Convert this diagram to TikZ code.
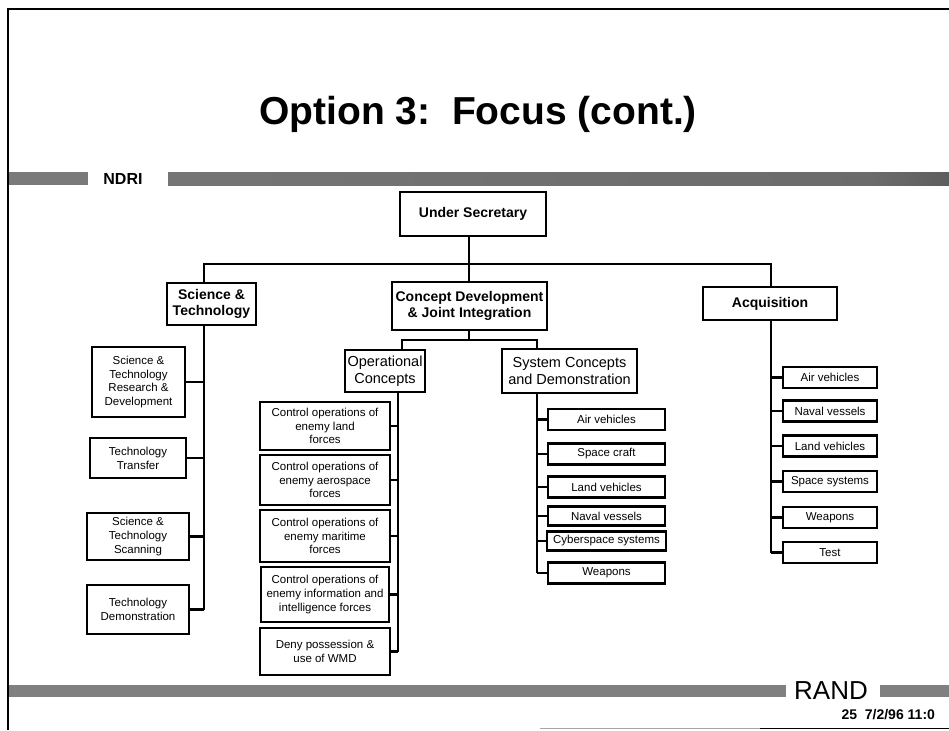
\documentclass[tikz,border=0pt]{standalone}
\usepackage{fontspec}
\setmainfont{Liberation Sans}
\pgfdeclarehorizontalshading{barshade}{100bp}{color(0bp)=(black!52); color(70bp)=(black!58); color(86bp)=(black!75); color(95bp)=(black); color(100bp)=(black)}
\begin{document}
\begin{tikzpicture}[x=1pt,y=-1pt,
  box/.style={draw,line width=2.3pt,fill=white,inner sep=0pt,align=center},
  conn/.style={line width=2.3pt},
  small/.style={font=\fontsize{11.5}{13.8}\selectfont},
  smallbox/.style={box,small,minimum height=21pt},
  bighead/.style={font=\fontsize{14}{16}\selectfont\bfseries},
  midreg/.style={font=\fontsize{14.5}{16.5}\selectfont}]
\useasboundingbox (0,0) rectangle (949,730);
\fill[white] (0,0) rectangle (949,730);
% frame
\draw[line width=2pt] (8,730) -- (8,9) -- (949,9);
\draw[line width=1pt,black!35] (540,728.5) -- (760,728.5);
\draw[line width=1pt] (760,728.5) -- (949,728.5);
% title
\node[font=\fontsize{39}{41}\selectfont\bfseries] (title) at (478,114) {Option 3:\ \ Focus (cont.)};
% top bar
\fill[black!52] (9,172) rectangle (88,185);
\shade[shading=barshade] (168,172) rectangle (949,185);
\node[font=\fontsize{16}{17}\selectfont\bfseries] (ndri) at (123,179) {NDRI};
% bottom bar
\fill[black!50] (9,685) rectangle (786,697);
\fill[black!50] (880,685) rectangle (949,697);
\node[font=\fontsize{26}{28}\selectfont] (rand) at (831,691) {RAND};
\node[font=\fontsize{14}{16}\selectfont\bfseries,anchor=west] (date) at (838,715) {25\ \ 7/2/96\ 11:0};
% coordinates
\coordinate (j0) at (469,264);
\coordinate (j1) at (469,340);
\coordinate (stx) at (204,0);
\coordinate (aqx) at (771,0);
\coordinate (ocx) at (402,0);
\coordinate (ocs) at (398,0);
\coordinate (scx) at (537,0);
% level 1
\node[box,bighead,minimum width=146pt,minimum height=44pt] (us) at (473,214) {Under Secretary};
\node[box,bighead,minimum width=89pt,minimum height=42pt] (st) at (211.5,304) {Science \&\\Technology};
\node[box,bighead,minimum width=155pt,minimum height=48pt] (cd) at (469.5,306) {Concept Development\\\& Joint Integration};
\node[box,bighead,minimum width=134pt,minimum height=33pt] (aq) at (770,303.5) {Acquisition};
% level 2
\node[box,midreg,minimum width=80pt,minimum height=42pt] (oc) at (385,371) {Operational\\Concepts};
\node[box,midreg,minimum width=135pt,minimum height=44pt] (sc) at (569.5,371) {System Concepts\\and Demonstration};
% S&T children
\node[box,small,minimum width=93pt,minimum height=70pt] (t1) at (138.5,382) {Science \&\\Technology\\Research \&\\Development};
\node[box,small,minimum width=96pt,minimum height=40pt] (t2) at (138,458) {Technology\\Transfer};
\node[box,small,minimum width=102pt,minimum height=47pt] (t3) at (138,536.5) {Science \&\\Technology\\Scanning};
\node[box,small,minimum width=102pt,minimum height=49pt] (t4) at (138,609.5) {Technology\\Demonstration};
% Operational concepts children
\node[box,small,minimum width=130pt,minimum height=48pt] (o1) at (325,426) {Control operations of\\enemy land\\forces};
\node[box,small,minimum width=130pt,minimum height=50pt] (o2) at (325,480) {Control operations of\\enemy aerospace\\forces};
\node[box,small,minimum width=130pt,minimum height=52pt] (o3) at (325,536) {Control operations of\\enemy maritime\\forces};
\node[box,small,minimum width=128pt,minimum height=55pt] (o4) at (325,594.5) {Control operations of\\enemy information and\\intelligence forces};
\node[box,small,minimum width=130pt,minimum height=47pt] (o5) at (325,651.5) {Deny possession \&\\use of WMD};
% System concepts children
\node[smallbox,minimum width=117pt] (s1) at (606.5,419.5) {Air vehicles};
\node[smallbox,minimum width=117pt] (s2) at (606.5,454) {Space craft};
\node[smallbox,minimum width=117pt] (s3) at (606.5,487) {Land vehicles};
\node[smallbox,minimum width=117pt,minimum height=19pt] (s4) at (606.5,516) {Naval vessels};
\node[smallbox,minimum width=119pt,minimum height=19pt] (s5) at (606.5,541) {Cyberspace systems};
\node[smallbox,minimum width=117pt] (s6) at (606.5,573) {Weapons};
% Acquisition children
\node[smallbox,minimum width=94pt] (a1) at (830,377.5) {Air vehicles};
\node[smallbox,minimum width=94pt] (a2) at (830,411) {Naval vessels};
\node[smallbox,minimum width=94pt] (a3) at (830,446) {Land vehicles};
\node[smallbox,minimum width=94pt] (a4) at (830,481.5) {Space systems};
\node[smallbox,minimum width=94pt] (a5) at (830,517.5) {Weapons};
\node[smallbox,minimum width=94pt] (a6) at (830,552.5) {Test};
% connectors
\draw[conn] (us.south -| j0) -- (j0);
\draw[conn] (j0) -- (cd.north -| j0);
\draw[conn] (st.north -| stx) -- (stx |- j0) -- (aqx |- j0) -- (aq.north -| aqx);
\draw[conn] (cd.south -| j1) -- (j1);
\draw[conn] (oc.north -| ocx) -- (ocx |- j1) -- (scx |- j1) -- (sc.north -| scx);
% spines
\draw[conn] (st.south -| stx) -- (stx |- t4.east);
\foreach \n in {t1,t2,t3,t4} \draw[conn] (\n.east) -- (\n.east -| stx);
\draw[conn] (oc.south -| ocs) -- (ocs |- o5.east);
\foreach \n in {o1,o2,o3,o4,o5} \draw[conn] (\n.east) -- (\n.east -| ocs);
\draw[conn] (sc.south -| scx) -- (scx |- s6.west);
\foreach \n in {s1,s2,s3,s4,s5,s6} \draw[conn] (\n.west) -- (\n.west -| scx);
\draw[conn] (aq.south -| aqx) -- (aqx |- a6.west);
\foreach \n in {a1,a2,a3,a4,a5,a6} \draw[conn] (\n.west) -- (\n.west -| aqx);
\end{tikzpicture}
\end{document}
